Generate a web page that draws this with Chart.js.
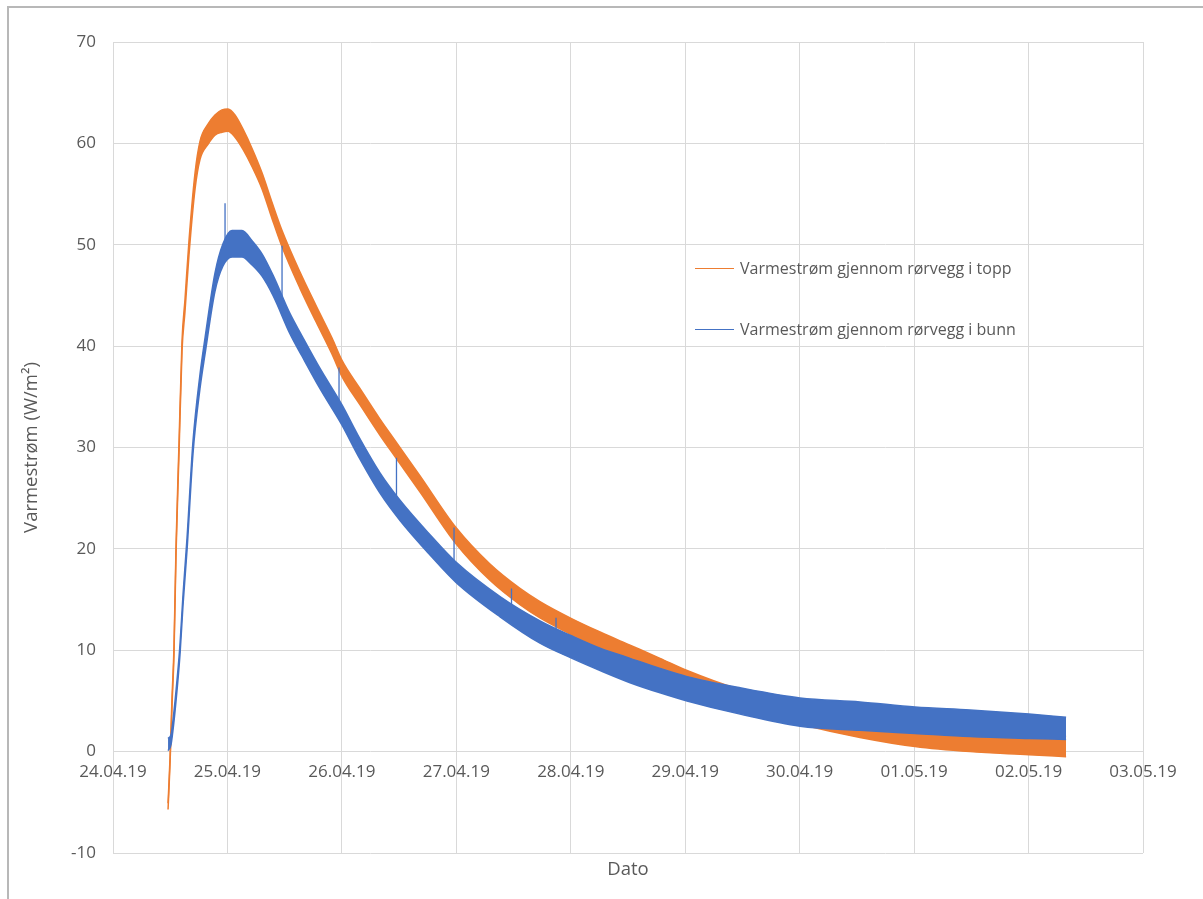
<!DOCTYPE html>
<html>
<head>
<meta charset="utf-8">
<script src="https://cdn.jsdelivr.net/npm/chart.js@4.4.1/dist/chart.umd.min.js"></script>
<style>
  html, body { margin: 0; padding: 0; background: #fff; overflow: hidden; }
  body { width: 1203px; height: 899px; position: relative; font-family: 'Open Sans', sans-serif; }
  #frame { position: absolute; left: 7px; top: 6px; width: 1300px; height: 1000px;
           border-left: 2px solid #b8b8b8; border-top: 2px solid #b8b8b8; }
  #chart { position: absolute; left: 0; top: 0; }
  .leg { position: absolute; left: 695px; height: 22px; line-height: 22px;
         font-size: 16px; color: #595959; white-space: nowrap; }
  .leg i { display: inline-block; width: 39px; height: 1.5px; vertical-align: middle;
           margin-right: 6px; position: relative; top: -1px; }
</style>
</head>
<body>
<div id="frame"></div>
<canvas id="chart" width="1203" height="899"></canvas>
<div id="legend"></div>
<script>
// Varmestrøm - topp vs bunn, 24.04.19 - 03.05.19
// x values are days after 24.04.19 00:00

const dateLabels = ['24.04.19', '25.04.19', '26.04.19', '27.04.19', '28.04.19',
  '29.04.19', '30.04.19', '01.05.19', '02.05.19', '03.05.19'];

const seriesNames = ['Varmestrøm gjennom rørvegg i topp', 'Varmestrøm gjennom rørvegg i bunn'];

// topp (orange): centre of the noisy band and its half thickness
const toppDays = [0.481, 0.498, 0.516, 0.533, 0.551, 0.577, 0.603, 0.629, 0.664, 0.717,
  0.760, 0.830, 0.891, 0.952, 1.005, 1.066, 1.136, 1.215, 1.302, 1.389,
  1.477, 1.634, 1.774, 1.914, 2.001, 2.159, 2.333, 2.464, 2.683, 2.997,
  3.294, 3.556, 3.731, 4.011, 4.256, 4.518, 4.780, 5.016, 5.479, 6.003,
  6.527, 7.008, 7.489, 8.004, 8.328];
const toppValues = [-5.4, -1.0, 5.0, 10.0, 20.0, 30.0, 40.0, 44.0, 49.7, 56.3,
  59.3, 60.9, 61.8, 62.2, 62.3, 61.7, 60.4, 58.6, 56.3, 53.4,
  50.6, 46.5, 43.2, 40.0, 37.8, 35.0, 32.0, 29.9, 26.4, 21.3,
  17.7, 15.3, 14.0, 12.3, 10.9, 9.6, 8.3, 7.1, 5.2, 3.6,
  2.3, 1.5, 1.0, 0.7, 0.5];
const toppSpread = [0.3, 0.3, 0.4, 0.4, 0.4, 0.5, 0.5, 0.6, 0.7, 0.8,
  0.9, 1.0, 1.0, 1.1, 1.1, 1.1, 1.0, 0.9, 0.8, 0.8,
  0.8, 0.8, 0.8, 0.8, 0.8, 0.8, 0.8, 0.8, 0.8, 0.8,
  0.8, 0.8, 0.8, 0.8, 0.9, 0.9, 0.9, 0.9, 0.9, 0.9,
  0.9, 1.0, 1.0, 1.0, 1.0];

// bunn (blue)
const bunnDays = [0.481, 0.507, 0.533, 0.559, 0.585, 0.612, 0.647, 0.699, 0.760, 0.804,
  0.891, 0.961, 1.040, 1.127, 1.215, 1.302, 1.398, 1.547, 1.652, 1.809,
  2.001, 2.141, 2.333, 2.508, 2.770, 2.997, 3.382, 3.731, 4.011, 4.256,
  4.518, 4.780, 5.016, 5.479, 6.003, 6.527, 7.008, 7.489, 8.004, 8.328];
const bunnValues = [0.7, 1.2, 3.5, 6.5, 10.0, 15.0, 20.5, 30.0, 36.5, 40.0,
  46.3, 49.0, 50.1, 50.1, 49.2, 48.0, 46.0, 42.2, 40.0, 36.8,
  33.2, 30.2, 26.5, 23.8, 20.4, 17.7, 14.3, 11.8, 10.3, 9.1,
  8.0, 7.0, 6.2, 5.0, 3.9, 3.5, 3.1, 2.8, 2.5, 2.3];
const bunnSpread = [0.6, 0.5, 0.5, 0.5, 0.5, 0.5, 0.6, 0.6, 0.7, 0.8,
  0.9, 1.1, 1.3, 1.3, 1.2, 1.1, 1.0, 1.0, 1.0, 1.0,
  1.0, 1.0, 1.0, 1.0, 1.0, 1.0, 1.0, 1.1, 1.1, 1.1,
  1.2, 1.2, 1.2, 1.3, 1.4, 1.4, 1.3, 1.3, 1.2, 1.1];

// short spikes in the bunn series (every ~12 h)
const spikeDays = [0.979, 1.477, 1.975, 2.477, 2.980, 3.482, 3.871];
const spikeBase = [49.0, 44.5, 33.5, 24.5, 18.0, 14.0, 11.5];
const spikeTop = [54.1, 49.9, 37.9, 29.0, 22.1, 16.1, 13.2];

const ORANGE = '#ED7D31';
const BLUE = '#4472C4';
const TEXT = '#595959';
const GRID = '#d9d9d9';

function edge(days, values, spread, sign) {
  return days.map((d, i) => ({ x: d, y: values[i] + sign * spread[i] }));
}

function spikes() {
  const pts = [];
  spikeDays.forEach((d, i) => {
    pts.push({ x: d, y: spikeBase[i] }, { x: d, y: spikeTop[i] }, { x: d, y: null });
  });
  return pts;
}

function bandSet(data, color, fill) {
  return {
    data,
    borderColor: color,
    backgroundColor: color,
    borderWidth: 1.5,
    pointRadius: 0,
    cubicInterpolationMode: 'monotone',
    fill
  };
}

// legend (html so text stays text)
const legendEl = document.getElementById('legend');
[[seriesNames[0], ORANGE, 257], [seriesNames[1], BLUE, 318]].forEach(([name, color, top]) => {
  const row = document.createElement('div');
  row.className = 'leg';
  row.style.top = top + 'px';
  row.innerHTML = '<i style="background:' + color + '"></i>' + name;
  legendEl.appendChild(row);
});

Chart.defaults.font.family = "'Open Sans', sans-serif";
Chart.defaults.color = TEXT;

const ctx = document.getElementById('chart').getContext('2d');
new Chart(ctx, {
  type: 'line',
  data: {
    datasets: [
      bandSet(edge(bunnDays, bunnValues, bunnSpread, 1), BLUE, '+1'),
      bandSet(edge(bunnDays, bunnValues, bunnSpread, -1), BLUE, false),
      {
        data: spikes(),
        borderColor: BLUE,
        borderWidth: 1.3,
        pointRadius: 0,
        spanGaps: false,
        fill: false
      },
      bandSet(edge(toppDays, toppValues, toppSpread, 1), ORANGE, '+1'),
      bandSet(edge(toppDays, toppValues, toppSpread, -1), ORANGE, false)
    ]
  },
  options: {
    responsive: false,
    devicePixelRatio: 1,
    animation: false,
    layout: { padding: { top: 42, right: 60, bottom: 0, left: 0 } },
    plugins: {
      legend: { display: false },
      tooltip: { enabled: false }
    },
    scales: {
      x: {
        type: 'linear',
        position: 'bottom',
        min: 0,
        max: 9,
        ticks: { stepSize: 1, display: false },
        grid: { color: GRID, lineWidth: 1, drawTicks: false },
        border: { display: false },
        title: {
          display: true,
          text: 'Dato',
          color: TEXT,
          font: { size: 18.5 },
          padding: { top: 0, bottom: 18 }
        },
        afterFit: s => { s.height = 46; }
      },
      xLabels: {
        type: 'linear',
        axis: 'x',
        position: { y: 0 },
        min: 0,
        max: 9,
        ticks: {
          stepSize: 1,
          padding: 10,
          color: TEXT,
          font: { size: 17 },
          maxRotation: 0,
          autoSkip: false,
          callback: (v) => dateLabels[Math.round(v)]
        },
        grid: { display: false, drawTicks: false },
        border: { display: false }
      },
      y: {
        type: 'linear',
        min: -10,
        max: 70,
        ticks: { stepSize: 10, padding: 17, color: TEXT, font: { size: 17 } },
        grid: { color: GRID, lineWidth: 1, drawTicks: false },
        border: { display: false },
        title: {
          display: true,
          text: 'Varmestrøm (W/m²)',
          color: TEXT,
          font: { size: 18.5 },
          padding: { top: 21, bottom: 0 }
        },
        afterFit: s => { s.width = 113; }
      }
    }
  }
});
</script>
</body>
</html>
